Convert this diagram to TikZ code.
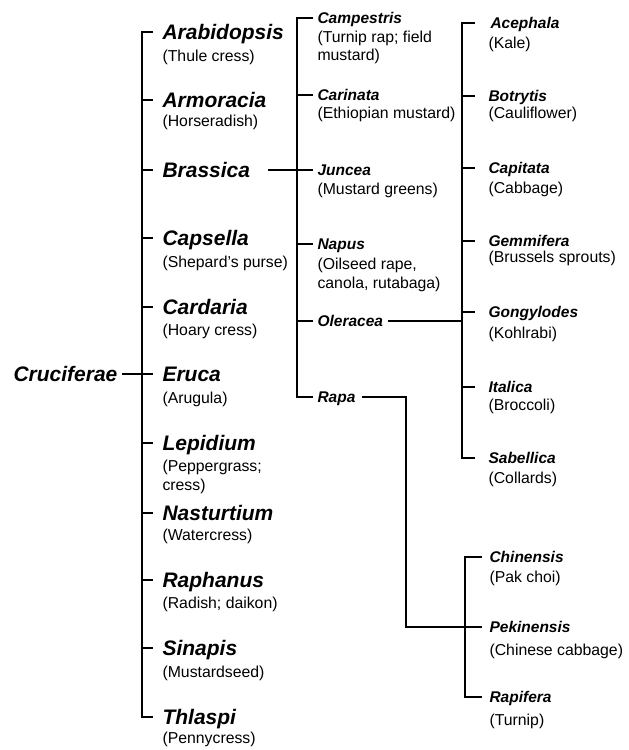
\documentclass[tikz,border=0pt]{standalone}
\usepackage{fontspec}
\setmainfont{Liberation Sans}
\begin{document}
\begin{tikzpicture}[x=1pt,y=-1pt,line width=1.1pt,
  genus/.style={anchor=west,inner sep=0pt,font=\fontsize{21}{25}\selectfont\bfseries\itshape,text height=14.4pt,text depth=0pt},
  spec/.style={anchor=west,inner sep=0pt,font=\fontsize{15.5}{19}\selectfont\bfseries\itshape,text height=10.7pt,text depth=0pt},
  common/.style={anchor=west,inner sep=0pt,font=\fontsize{15.8}{19}\selectfont,text height=10.9pt,text depth=0pt}]
\useasboundingbox (0,0) rectangle (629,750);
% vertical line positions
\coordinate (v1) at (142,0);
\coordinate (v2) at (297,0);
\coordinate (v3) at (462,0);
\coordinate (v4) at (465,0);
\coordinate (r4) at (406,0);
% root
\node[genus] (cruc) at (13,374) {Cruciferae};
% genera
\node[genus] (arab) at (162,32) {Arabidopsis};
\node[common] (arabc) at (162,56) {(Thule cress)};
\node[genus] (armo) at (162,100) {Armoracia};
\node[common] (armoc) at (162,121) {(Horseradish)};
\node[genus] (bras) at (162,170) {Brassica};
\node[genus] (caps) at (162,238) {Capsella};
\node[common] (capsc) at (162,262) {(Shepard's purse)};
\node[genus] (card) at (162,307) {Cardaria};
\node[common] (cardc) at (162,330) {(Hoary cress)};
\node[genus] (eruc) at (162,374) {Eruca};
\node[common] (erucc) at (162,398) {(Arugula)};
\node[genus] (lepi) at (162,443) {Lepidium};
\node[common] (lepic) at (162,466) {(Peppergrass;};
\node[common] (lepic2) at (162,485) {cress)};
\node[genus] (nast) at (162,513) {Nasturtium};
\node[common] (nastc) at (162,535) {(Watercress)};
\node[genus] (raph) at (162,580) {Raphanus};
\node[common] (raphc) at (162,603) {(Radish; daikon)};
\node[genus] (sina) at (162,648) {Sinapis};
\node[common] (sinac) at (162,672) {(Mustardseed)};
\node[genus] (thla) at (162,717) {Thlaspi};
\node[common] (thlac) at (162,738) {(Pennycress)};
% species of Brassica
\node[spec] (camp) at (317,18) {Campestris};
\node[common] (campc) at (317,37) {(Turnip rap; field};
\node[common] (campc2) at (317,55) {mustard)};
\node[spec] (cari) at (317,95) {Carinata};
\node[common] (caric) at (317,113) {(Ethiopian mustard)};
\node[spec] (junc) at (317,170) {Juncea};
\node[common] (juncc) at (317,189) {(Mustard greens)};
\node[spec] (napu) at (317,244) {Napus};
\node[common] (napuc) at (317,264) {(Oilseed rape,};
\node[common] (napuc2) at (317,283) {canola, rutabaga)};
\node[spec] (oler) at (317,321) {Oleracea};
\node[spec] (rapa) at (317,397) {Rapa};
% varieties of oleracea
\node[spec] (acep) at (490,23) {Acephala};
\node[common] (acepc) at (488,43) {(Kale)};
\node[spec] (botr) at (488,96) {Botrytis};
\node[common] (botrc) at (488,113) {(Cauliflower)};
\node[spec] (capi) at (488,168) {Capitata};
\node[common] (capic) at (488,188) {(Cabbage)};
\node[spec] (gemm) at (488,241) {Gemmifera};
\node[common] (gemmc) at (488,257) {(Brussels sprouts)};
\node[spec] (gong) at (488,312) {Gongylodes};
\node[common] (gongc) at (488,333) {(Kohlrabi)};
\node[spec] (ital) at (488,387) {Italica};
\node[common] (italc) at (488,405) {(Broccoli)};
\node[spec] (sabe) at (488,458) {Sabellica};
\node[common] (sabec) at (488,478) {(Collards)};
% varieties of rapa
\node[spec] (chin) at (489,557) {Chinensis};
\node[common] (chinc) at (489,577) {(Pak choi)};
\node[spec] (peki) at (489,627) {Pekinensis};
\node[common] (pekic) at (489,650) {(Chinese cabbage)};
\node[spec] (rapi) at (489,697) {Rapifera};
\node[common] (rapic) at (489,720) {(Turnip)};
% connectors: genera
\draw ([xshift=4pt]cruc.east) -- ([xshift=-9pt]eruc.west);
\draw ([xshift=-9pt]arab.west) -| (v1 |- thla.west) -- ([xshift=-9pt]thla.west);
\foreach \n in {armo,bras,caps,card,lepi,nast,raph,sina}
  \draw (v1 |- \n.west) -- ([xshift=-9pt]\n.west);
% connectors: species
\draw ([xshift=17pt]bras.east) -- ([xshift=-4pt]junc.west);
\draw ([xshift=-4pt]camp.west) -| (v2 |- rapa.west) -- ([xshift=-4pt]rapa.west);
\foreach \n in {cari,napu,oler}
  \draw (v2 |- \n.west) -- ([xshift=-4pt]\n.west);
% connectors: oleracea
\draw ([xshift=4pt]oler.east) -- (v3 |- oler.east);
\draw ([xshift=-15pt]acep.west) -| (v3 |- sabe.west) -- ([xshift=-13pt]sabe.west);
\foreach \n in {botr,capi,gemm,gong,ital}
  \draw (v3 |- \n.west) -- ([xshift=-13pt]\n.west);
% connectors: rapa
\draw ([xshift=6pt]rapa.east) -| (r4 |- peki.west) -- ([xshift=-7pt]peki.west);
\draw ([xshift=-7pt]chin.west) -| (v4 |- rapi.west) -- ([xshift=-7pt]rapi.west);
\end{tikzpicture}
\end{document}
